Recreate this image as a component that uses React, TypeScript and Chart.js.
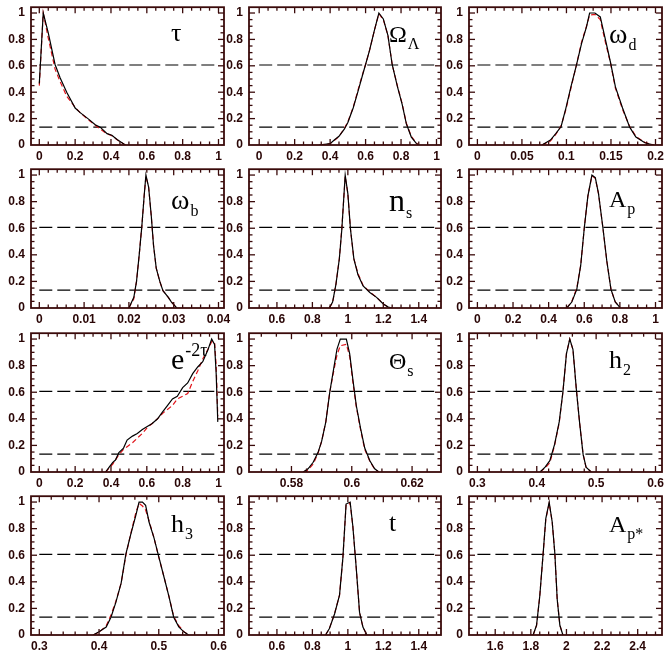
import React, { useEffect, useRef } from 'react';
import { Chart, registerables } from 'chart.js';
Chart.register(...registerables);

// ---------- data ----------
const yTickValues = [0, 0.2, 0.4, 0.6, 0.8, 1];
const levelValues = [0.606, 0.135];

// tau
const tauX = [0, 0.022, 0.05, 0.088, 0.116, 0.153, 0.2, 0.228, 0.275, 0.312, 0.34, 0.378, 0.405, 0.434, 0.48];
const tauBlack = [0.466, 1.0, 0.85, 0.61, 0.51, 0.4, 0.28, 0.245, 0.196, 0.154, 0.135, 0.086, 0.074, 0.042, 0];
const tauRed = [0.45, 1.0, 0.81, 0.575, 0.48, 0.37, 0.285, 0.245, 0.19, 0.15, 0.12, 0.085, 0.07, 0.04, 0];
const tauTicks = [0, 0.2, 0.4, 0.6, 0.8, 1];
const tauRange = [0, 1];

// Omega_Lambda
const olX = [0.34, 0.4, 0.425, 0.45, 0.48, 0.5, 0.53, 0.556, 0.585, 0.6, 0.623, 0.65, 0.675, 0.7, 0.726, 0.75, 0.78, 0.806, 0.83, 0.858, 0.886, 0.9];
const olBlack = [0, 0.01, 0.04, 0.066, 0.12, 0.17, 0.28, 0.4, 0.54, 0.61, 0.72, 0.87, 1.0, 0.955, 0.83, 0.61, 0.44, 0.31, 0.16, 0.06, 0.012, 0];
const olRed = [0, 0.01, 0.035, 0.065, 0.125, 0.175, 0.285, 0.41, 0.545, 0.61, 0.72, 0.87, 0.995, 0.95, 0.83, 0.61, 0.445, 0.315, 0.165, 0.065, 0.015, 0];
const olTicks = [0, 0.2, 0.4, 0.6, 0.8, 1];
const olRange = [0, 1];

// omega_d
const wdX = [0.0725, 0.082, 0.088, 0.094, 0.0994, 0.105, 0.111, 0.117, 0.1225, 0.126, 0.132, 0.138, 0.1437, 0.1495, 0.155, 0.163, 0.171, 0.178, 0.188, 0.198];
const wdBlack = [0, 0.037, 0.086, 0.14, 0.28, 0.44, 0.6, 0.77, 0.895, 1.0, 1.0, 0.97, 0.8, 0.625, 0.44, 0.28, 0.135, 0.06, 0.017, 0];
const wdRed = [0, 0.03, 0.08, 0.145, 0.27, 0.43, 0.6, 0.78, 0.9, 0.985, 0.99, 0.95, 0.78, 0.62, 0.43, 0.27, 0.14, 0.065, 0.02, 0];
const wdTicks = [0, 0.05, 0.1, 0.15, 0.2];
const wdRange = [0, 0.2];

// omega_b
const wbX = [0.02, 0.0211, 0.0217, 0.0223, 0.0229, 0.0234, 0.0238, 0.0244, 0.025, 0.0255, 0.0261, 0.0269, 0.0276, 0.0288, 0.0295, 0.0307];
const wbBlack = [0, 0.08, 0.2, 0.4, 0.62, 0.84, 1.0, 0.91, 0.69, 0.47, 0.3, 0.2, 0.13, 0.08, 0.044, 0];
const wbRed = [0, 0.07, 0.2, 0.4, 0.62, 0.84, 0.99, 0.91, 0.69, 0.47, 0.3, 0.2, 0.13, 0.08, 0.045, 0];
const wbTicks = [0, 0.01, 0.02, 0.03, 0.04];
const wbRange = [0, 0.04];

// n_s
const nsX = [0.895, 0.914, 0.933, 0.952, 0.966, 0.985, 1.0, 1.015, 1.034, 1.057, 1.086, 1.124, 1.162, 1.2, 1.228, 1.25];
const nsBlack = [0, 0.044, 0.18, 0.37, 0.59, 1.0, 0.86, 0.59, 0.37, 0.25, 0.166, 0.117, 0.08, 0.03, 0.007, 0];
const nsRed = [0, 0.04, 0.18, 0.37, 0.6, 0.99, 0.86, 0.59, 0.37, 0.26, 0.17, 0.12, 0.08, 0.03, 0.007, 0];
const nsTicks = [0.6, 0.8, 1, 1.2, 1.4];
const nsRange = [0.5, 1.5];

// A_p
const apX = [0.502, 0.53, 0.558, 0.58, 0.6, 0.62, 0.643, 0.662, 0.68, 0.705, 0.727, 0.75, 0.774, 0.8];
const apBlack = [0, 0.045, 0.14, 0.32, 0.6, 0.84, 1.0, 0.98, 0.86, 0.6, 0.35, 0.14, 0.045, 0.005];
const apRed = [0, 0.05, 0.15, 0.32, 0.6, 0.84, 0.995, 0.975, 0.86, 0.6, 0.35, 0.14, 0.045, 0.005];
const apTicks = [0, 0.2, 0.4, 0.6, 0.8, 1];
const apRange = [0, 1];

// e^{-2 tau}
const e2tX = [0.37, 0.39, 0.41, 0.425, 0.444, 0.47, 0.49, 0.52, 0.547, 0.575, 0.6, 0.63, 0.66, 0.687, 0.715, 0.743, 0.77, 0.8, 0.828, 0.856, 0.884, 0.912, 0.94, 0.962, 0.978, 0.987, 0.996];
const e2tBlack = [0, 0.036, 0.073, 0.09, 0.146, 0.18, 0.24, 0.27, 0.29, 0.32, 0.34, 0.365, 0.4, 0.45, 0.5, 0.55, 0.57, 0.635, 0.67, 0.74, 0.79, 0.83, 0.915, 1.0, 0.96, 0.74, 0.377];
const e2tRed = [0, 0.03, 0.06, 0.09, 0.13, 0.17, 0.19, 0.22, 0.255, 0.29, 0.33, 0.365, 0.4, 0.44, 0.47, 0.5, 0.55, 0.57, 0.59, 0.68, 0.76, 0.85, 0.92, 0.98, 0.98, 0.8, 0.42];
const e2tTicks = [0, 0.2, 0.4, 0.6, 0.8, 1];
const e2tRange = [0, 1];

// Theta_s
const thX = [0.5839, 0.5855, 0.5872, 0.5888, 0.59, 0.5914, 0.5927, 0.5941, 0.5951, 0.5962, 0.5982, 0.5993, 0.6004, 0.6015, 0.6029, 0.6043, 0.606, 0.6076, 0.609];
const thBlack = [0, 0.024, 0.073, 0.146, 0.23, 0.377, 0.6, 0.79, 0.925, 1.0, 1.0, 0.89, 0.69, 0.5, 0.33, 0.18, 0.085, 0.024, 0];
const thRed = [0, 0.015, 0.06, 0.14, 0.23, 0.38, 0.6, 0.77, 0.88, 0.95, 0.96, 0.87, 0.67, 0.49, 0.32, 0.17, 0.08, 0.02, 0];
const thTicks = [0.58, 0.6, 0.62];
const thRange = [0.5693, 0.6281];

// h_2
const h2X = [0.4056, 0.414, 0.422, 0.43, 0.4378, 0.444, 0.45, 0.4556, 0.461, 0.4667, 0.472, 0.478, 0.483, 0.4917];
const h2Black = [0, 0.036, 0.085, 0.207, 0.377, 0.6, 0.89, 1.0, 0.92, 0.62, 0.377, 0.134, 0.036, 0];
const h2Red = [0, 0.03, 0.07, 0.2, 0.37, 0.6, 0.89, 1.0, 0.92, 0.62, 0.377, 0.134, 0.036, 0];
const h2Ticks = [0.3, 0.4, 0.5, 0.6];
const h2Range = [0.3, 0.6];

// h_3
const h3X = [0.39, 0.4, 0.412, 0.42, 0.428, 0.437, 0.445, 0.453, 0.4616, 0.467, 0.4727, 0.478, 0.4837, 0.492, 0.5003, 0.5086, 0.517, 0.525, 0.5335, 0.542, 0.55];
const h3Black = [0, 0.024, 0.06, 0.134, 0.243, 0.39, 0.61, 0.755, 0.9, 1.0, 1.0, 0.975, 0.85, 0.73, 0.584, 0.438, 0.29, 0.134, 0.061, 0.024, 0];
const h3Red = [0, 0.02, 0.07, 0.15, 0.25, 0.39, 0.6, 0.76, 0.92, 0.99, 0.97, 0.94, 0.86, 0.73, 0.58, 0.44, 0.29, 0.14, 0.07, 0.025, 0];
const h3Ticks = [0.3, 0.4, 0.5, 0.6];
const h3Range = [0.3, 0.6];

// t
const tX = [0.874, 0.896, 0.925, 0.953, 0.972, 0.99, 1.013, 1.028, 1.047, 1.066, 1.085, 1.1075];
const tBlack = [0, 0.049, 0.158, 0.3, 0.58, 0.985, 1.0, 0.82, 0.51, 0.17, 0.06, 0];
const tRed = [0, 0.05, 0.16, 0.3, 0.58, 0.98, 0.99, 0.82, 0.51, 0.17, 0.06, 0];
const tTicks = [0.6, 0.8, 1, 1.2, 1.4];
const tRange = [0.5, 1.5];

// A_p*
const apsX = [1.813, 1.832, 1.85, 1.869, 1.884, 1.903, 1.92, 1.935, 1.948, 1.963, 1.98];
const apsBlack = [0, 0.073, 0.29, 0.61, 0.876, 1.0, 0.85, 0.61, 0.27, 0.073, 0];
const apsRed = [0, 0.07, 0.29, 0.61, 0.87, 0.99, 0.85, 0.61, 0.27, 0.075, 0];
const apsTicks = [1.6, 1.8, 2, 2.2, 2.4];
const apsRange = [1.5, 2.5];

const labelMain = ['τ', 'Ω', 'ω', 'ω', 'n', 'A', 'e', 'Θ', 'h', 'h', 't', 'A'];
const labelSub = ['', 'Λ', 'd', 'b', 's', 'p', '', 's', '2', '3', '', 'p*'];
const labelSup = ['', '', '', '', '', '', '-2τ', '', '', '', '', ''];

const panelX = [tauX, olX, wdX, wbX, nsX, apX, e2tX, thX, h2X, h3X, tX, apsX];
const panelBlack = [tauBlack, olBlack, wdBlack, wbBlack, nsBlack, apBlack, e2tBlack, thBlack, h2Black, h3Black, tBlack, apsBlack];
const panelRed = [tauRed, olRed, wdRed, wbRed, nsRed, apRed, e2tRed, thRed, h2Red, h3Red, tRed, apsRed];
const panelTicks = [tauTicks, olTicks, wdTicks, wbTicks, nsTicks, apTicks, e2tTicks, thTicks, h2Ticks, h3Ticks, tTicks, apsTicks];
const panelRange = [tauRange, olRange, wdRange, wbRange, nsRange, apRange, e2tRange, thRange, h2Range, h3Range, tRange, apsRange];
const panelMinor = [0.05, 0.05, 0.01, 0.002, 0.05, 0.05, 0.05, 0.005, 0.02, 0.02, 0.05, 0.05];

// ---------- styling / layout ----------
const colLeft = [31, 249, 469];
const colRight = [224, 441, 662];
const colPadL = [8.3, 10.2, 8.4];
const colPadR = [5.5, 4.5, 6.5];
const rowTop = [3, 165, 329, 492];
const rowBottom = [145, 308, 472, 635];
const labelSize = [26, 24, 28, 28, 32, 24, 30, 24, 26, 26, 26, 24];
const labelDy = [34, 35, 36, 40, 42, 38, 36, 36, 35, 36, 35, 36];
const FRAME = '#3a0a0a';
const TEXT = '#2a0606';
const SERIF = '"Liberation Serif", "DejaVu Serif", serif';

function fmt(v: number) {
  return String(Number(v.toPrecision(6)));
}

const LW = 28;
const TP = 9;
const RP = 12;
const BH = 21;

function Panel({ idx }: { idx: number }) {
  const ref = useRef<HTMLCanvasElement>(null);
  const r = Math.floor(idx / 3);
  const c = idx % 3;
  const bl = colLeft[c];
  const br = colRight[c];
  const bt = rowTop[r];
  const bb = rowBottom[r];
  const w = LW + (br - bl) + RP;
  const h = TP + (bb - bt) + BH;

  useEffect(() => {
    const [nMin, nMax] = panelRange[idx];
    const boxW = br - bl;
    const nomW = boxW - colPadL[c] - colPadR[c];
    const per = (nMax - nMin) / nomW;
    const xmin = nMin - colPadL[c] * per;
    const xmax = nMax + colPadR[c] * per;
    const xs = panelX[idx];
    const ticks = panelTicks[idx];
    const minor = panelMinor[idx];

    const framePlugin = {
      id: 'frame' + idx,
      afterDraw(chart: any) {
        const ctx = chart.ctx as CanvasRenderingContext2D;
        const a = chart.chartArea;
        const xs_ = chart.scales.x;
        const ys_ = chart.scales.y;
        ctx.save();
        ctx.strokeStyle = FRAME;
        ctx.lineWidth = 1.3;
        ctx.setLineDash([]);
        const seg = (x1: number, y1: number, x2: number, y2: number) => {
          ctx.beginPath();
          ctx.moveTo(x1, y1);
          ctx.lineTo(x2, y2);
          ctx.stroke();
        };
        const kStart = Math.ceil(xmin / minor - 1e-6);
        const kEnd = Math.floor(xmax / minor + 1e-6);
        for (let k = kStart; k <= kEnd; k++) {
          const v = k * minor;
          const px = xs_.getPixelForValue(v);
          if (px < a.left + 2 || px > a.right - 2) continue;
          const major = ticks.some((m) => Math.abs(m - v) < minor * 0.01);
          const len = major ? 6 : 3.5;
          seg(px, a.bottom, px, a.bottom - len);
          seg(px, a.top, px, a.top + len);
        }
        for (let k = 0; k <= 20; k++) {
          const v = k * 0.05;
          const py = ys_.getPixelForValue(v);
          if (py < a.top + 2 || py > a.bottom - 2) continue;
          const len = k % 4 === 0 ? 6 : 3.5;
          seg(a.left, py, a.left + len, py);
          seg(a.right, py, a.right - len, py);
        }
        ctx.lineWidth = 1.8;
        ctx.strokeRect(a.left, a.top, a.right - a.left, a.bottom - a.top);

        // panel label
        ctx.fillStyle = '#000';
        ctx.textAlign = 'left';
        ctx.textBaseline = 'alphabetic';
        const x0 = a.left + 140;
        const y0 = a.top + labelDy[idx];
        ctx.font = `${labelSize[idx]}px ${SERIF}`;
        ctx.fillText(labelMain[idx], x0, y0);
        const mw = ctx.measureText(labelMain[idx]).width;
        if (labelSub[idx]) {
          ctx.font = `16px ${SERIF}`;
          ctx.fillText(labelSub[idx], x0 + mw + 1, y0 + 7);
        }
        if (labelSup[idx]) {
          ctx.font = `18px ${SERIF}`;
          ctx.fillText(labelSup[idx], x0 + mw + 1, y0 - 13);
        }
        ctx.restore();
      },
    };

    const font = { family: '"Liberation Sans", Arial, sans-serif', size: 12, weight: 'bold' as const };
    const chart = new Chart(ref.current as HTMLCanvasElement, {
      type: 'line',
      data: {
        datasets: [
          {
            data: xs.map((x, i) => ({ x, y: panelBlack[idx][i] })),
            borderColor: '#000',
            borderWidth: 1.2,
            pointRadius: 0,
            fill: false,
            tension: 0,
          },
          {
            data: xs.map((x, i) => ({ x, y: panelRed[idx][i] })),
            borderColor: '#e0141a',
            borderWidth: 1.2,
            borderDash: [5, 3],
            pointRadius: 0,
            fill: false,
            tension: 0,
          },
          ...levelValues.map((lv) => ({
            data: [
              { x: nMin, y: lv },
              { x: nMax, y: lv },
            ],
            borderColor: '#000',
            borderWidth: 1.2,
            borderDash: [13, 5],
            pointRadius: 0,
            fill: false,
          })),
        ],
      },
      options: {
        animation: false,
        responsive: false,
        maintainAspectRatio: false,
        devicePixelRatio: 1,
        layout: { padding: { left: 0, top: TP, right: RP, bottom: 0 } },
        plugins: {
          legend: { display: false },
          tooltip: { enabled: false },
        },
        scales: {
          x: {
            type: 'linear',
            min: xmin,
            max: xmax,
            grid: { display: false, drawTicks: false },
            border: { display: false },
            afterBuildTicks: (s: any) => {
              s.ticks = ticks.map((v) => ({ value: v }));
            },
            afterFit: (s: any) => {
              s.height = BH;
            },
            ticks: {
              autoSkip: false,
              maxRotation: 0,
              padding: 4,
              color: TEXT,
              font,
              callback: (v: any) => fmt(Number(v)),
            },
          },
          y: {
            type: 'linear',
            min: 0,
            max: 1.044,
            grid: { display: false, drawTicks: false },
            border: { display: false },
            afterBuildTicks: (s: any) => {
              s.ticks = yTickValues.map((v) => ({ value: v }));
            },
            afterFit: (s: any) => {
              s.width = LW;
            },
            ticks: {
              autoSkip: false,
              padding: 6,
              color: TEXT,
              font,
              callback: (v: any) => fmt(Number(v)),
            },
          },
        },
      } as any,
      plugins: [framePlugin],
    });
    return () => chart.destroy();
  }, []);

  return (
    <canvas
      ref={ref}
      width={w}
      height={h}
      style={{ position: 'absolute', left: bl - LW, top: bt - TP, width: w, height: h }}
    />
  );
}

export default function App() {
  return (
    <div
      style={{
        position: 'fixed',
        left: 0,
        top: 0,
        width: 664,
        height: 653,
        overflow: 'hidden',
        background: '#fff',
      }}
    >
      {Array.from({ length: 12 }, (_, i) => (
        <Panel key={i} idx={i} />
      ))}
    </div>
  );
}
